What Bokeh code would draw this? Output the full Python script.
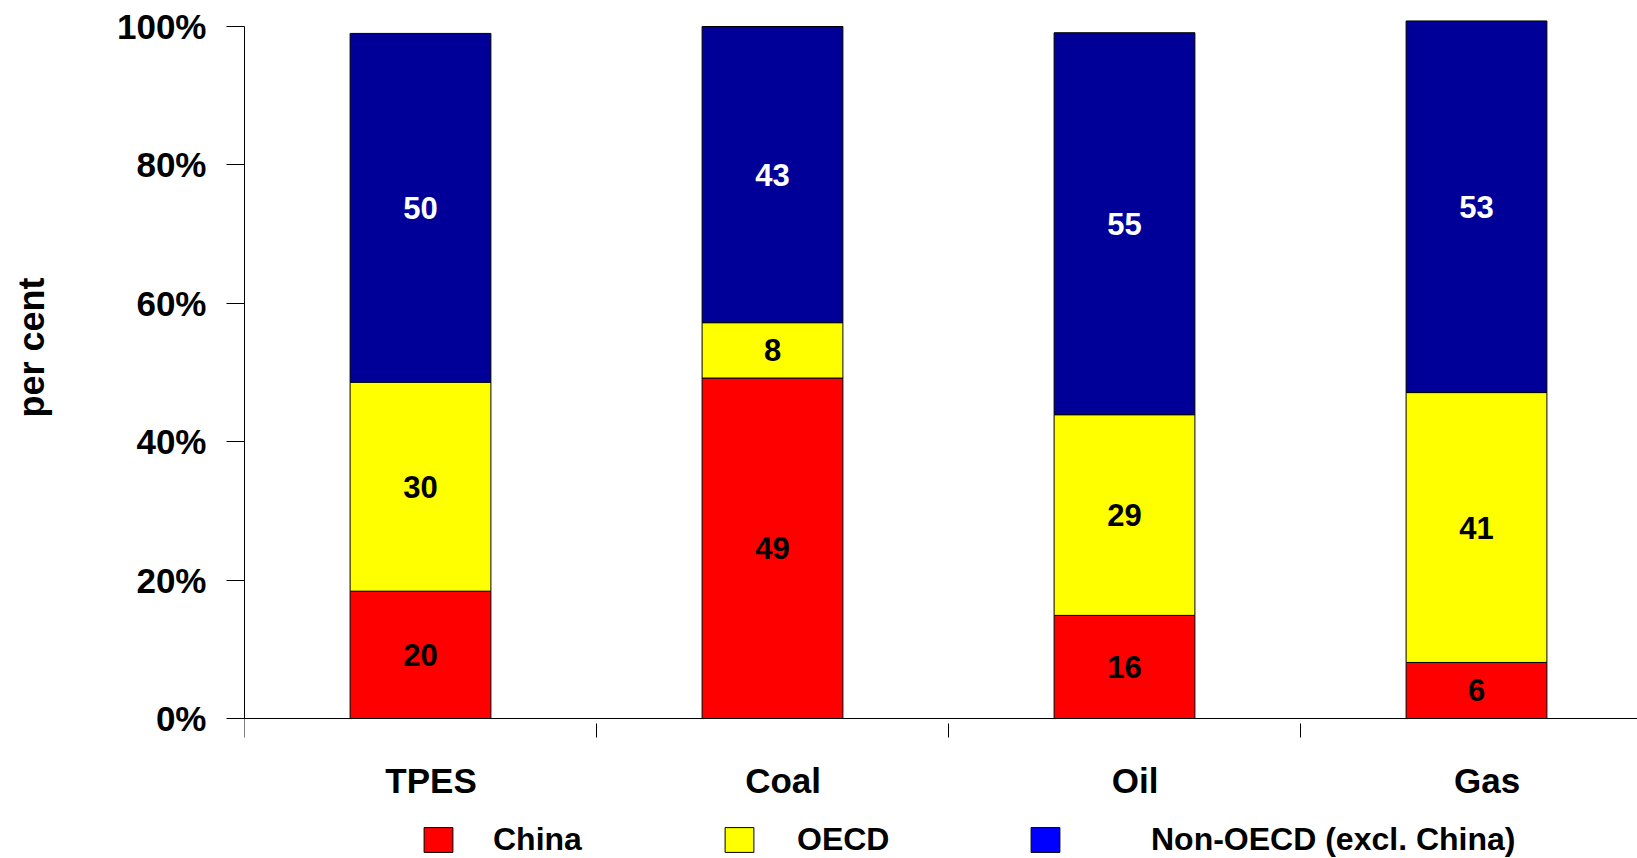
from bokeh.plotting import figure
from bokeh.models import ColumnDataSource, FixedTicker, Legend, LegendItem, Range1d, Span, Title
from bokeh.core.properties import value
from bokeh.embed import file_html
from bokeh.resources import INLINE

# ---- data ----
categories = ["TPES", "Coal", "Oil", "Gas"]
series_names = ["China", "OECD", "Non-OECD (excl. China)"]
china = [18.4, 49.2, 14.9, 8.1]
oecd = [30.2, 8.0, 29.0, 39.0]
non_oecd = [50.4, 42.8, 55.2, 53.7]
china_labels = ["20", "49", "16", "6"]
oecd_labels = ["30", "8", "29", "41"]
non_oecd_labels = ["50", "43", "55", "53"]
y_ticks = [0, 20, 40, 60, 80, 100]

# ---- styles / layout ----
FONT = "Liberation Sans"
bar_colors = ["#FF0000", "#FFFF00", "#000099"]
legend_colors = ["#FF0000", "#FFFF00", "#0000FF"]
label_colors = ["black", "black", "white"]

W, H = 1637, 858
FRAME_LEFT, FRAME_TOP = 244, 16
Y100_PX, Y0_PX = 26, 718           # pixel rows of 100% and 0%
CAT_PX = 352                        # pixels per category slot
px_per_unit = (Y0_PX - Y100_PX) / 100.0
y_start = -(H - Y0_PX) / px_per_unit
y_end = 100 + (Y100_PX - FRAME_TOP) / px_per_unit
x_end = (W - FRAME_LEFT) / CAT_PX

xs = [i + 0.5 for i in range(len(categories))]
label_xs = [i + 0.53 for i in range(len(categories))]
bounds_x = list(range(len(categories) + 1))

p = figure(width=W, height=H, output_backend="svg", toolbar_location=None,
           x_range=Range1d(0, x_end), y_range=Range1d(y_start, y_end),
           x_axis_location=None,
           min_border_left=FRAME_LEFT, min_border_right=0, min_border_top=FRAME_TOP,
           min_border_bottom=0)
p.outline_line_color = None
p.xgrid.visible = False
p.ygrid.visible = False
p.background_fill_color = "white"
p.border_fill_color = "white"

series = [china, oecd, non_oecd]
labels = [china_labels, oecd_labels, non_oecd_labels]
bottoms = [0.0] * len(categories)
for vals, labs, col, lcol in zip(series, labels, bar_colors, label_colors):
    tops = [b + v for b, v in zip(bottoms, vals)]
    mids = [(b + t) / 2 for b, t in zip(bottoms, tops)]
    src = ColumnDataSource(dict(x=xs, bottom=bottoms, top=tops, mid=mids, lab=labs))
    p.vbar(x="x", bottom="bottom", top="top", width=0.4, source=src,
           fill_color=col, line_color="black", line_width=1)
    p.text(x="x", y="mid", text="lab", source=src, text_align="center",
           text_baseline="middle", text_color=lcol, text_font=value(FONT),
           text_font_style="bold", text_font_size="31px")
    bottoms = tops

# ---- x axis (drawn inside the frame) ----
p.add_layout(Span(location=0, dimension="width", line_color="black", line_width=1))
tick_gap = 5 / px_per_unit
tick_len = 19 / px_per_unit
p.segment(x0=bounds_x, y0=[0 if b == 0 else -tick_gap for b in bounds_x],
          x1=bounds_x, y1=[-tick_len] * len(bounds_x),
          line_color="black", line_width=1)
cat_label_y = -62 / px_per_unit
p.text(x=label_xs, y=[cat_label_y] * len(categories), text=categories,
       text_align="center", text_baseline="middle", text_color="black",
       text_font=value(FONT), text_font_style="bold", text_font_size="35px")

# ---- y axis ----
ya = p.yaxis[0]
ya.ticker = FixedTicker(ticks=y_ticks, minor_ticks=[])
ya.major_label_overrides = {t: f"{t}%" for t in y_ticks}
ya.bounds = (0, 100)
ya.major_label_text_font = FONT
ya.major_label_text_font_style = "bold"
ya.major_label_text_font_size = "35px"
ya.major_label_text_color = "black"
ya.major_tick_out = 18
ya.major_tick_in = 0
ya.major_label_standoff = 20
ya.axis_line_color = "black"
ya.major_tick_line_color = "black"

# blank spacer between the tick labels and the axis title
p.add_layout(Title(text=" ", text_font_size="14px", standoff=40), "left")
ytitle = Title(text="per cent", align="right", offset=261, standoff=8,
               text_font=FONT, text_font_style="bold", text_font_size="36px",
               text_color="black")
p.add_layout(ytitle, "left")

# ---- legend (one box per entry, positioned like the original) ----
legend_x = [176, 477, 783]
standoffs = [37, 40, 88]
for name, col, lx, so in zip(series_names, legend_colors, legend_x, standoffs):
    r = p.vbar(x=[-10], top=[1], width=0.4, fill_color=col, line_color="black",
               line_width=1)
    lg = Legend(items=[LegendItem(label=name, renderers=[r])], location=(lx, 0),
                orientation="horizontal", glyph_width=36, glyph_height=31,
                label_height=31, label_standoff=so, padding=0, margin=0,
                border_line_color=None, background_fill_alpha=0,
                label_text_font=FONT, label_text_font_style="bold",
                label_text_font_size="32px", label_text_color="black")
    p.add_layout(lg)

open("out.html", "w").write(file_html(p, INLINE))
